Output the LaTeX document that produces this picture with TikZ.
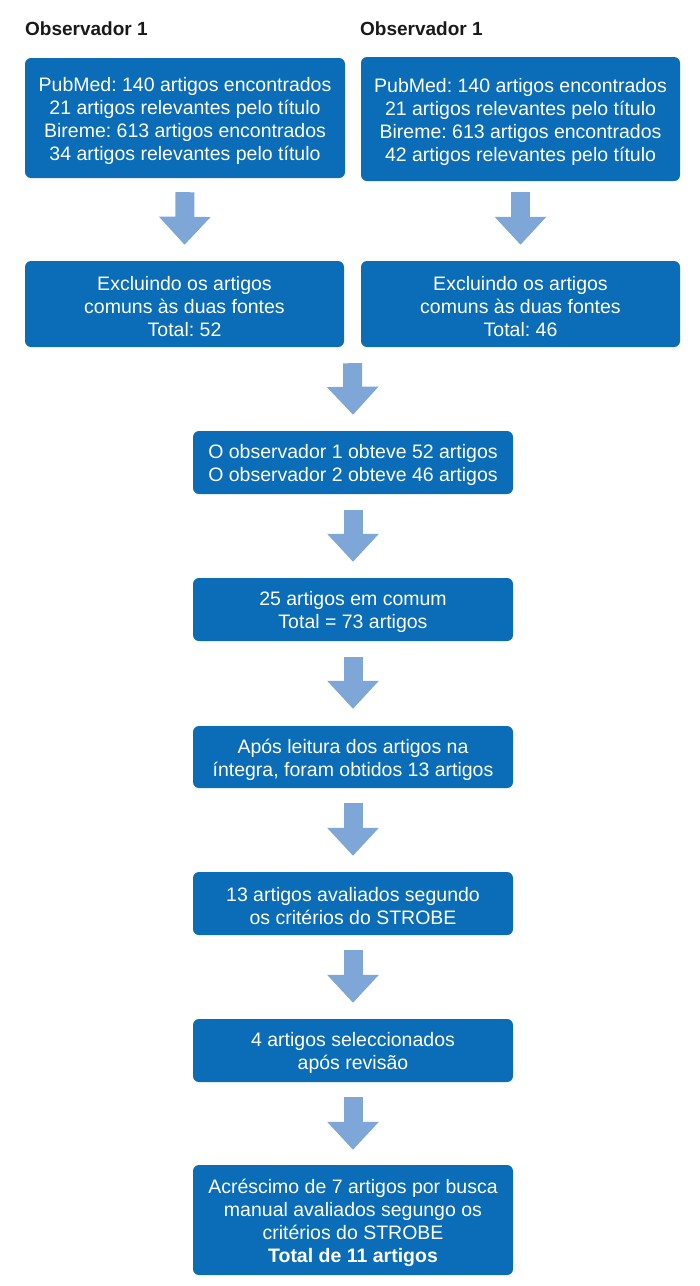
\documentclass[tikz,border=0pt]{standalone}
\usepackage{fontspec}
\setmainfont{Liberation Sans}
\usetikzlibrary{arrows.meta,calc}
\definecolor{boxblue}{HTML}{0B6DB7}
\definecolor{arrowblue}{HTML}{7EA7D8}
\frenchspacing
\newcommand\topstrut{\rule{0pt}{20pt}}
\tikzset{
  stepbox/.style={fill=boxblue, rounded corners=6pt, text=white, align=center,
    font=\fontsize{19.5}{23}\selectfont, inner sep=0pt},
  title/.style={anchor=west, inner sep=0pt, font=\fontsize{19}{23}\selectfont\bfseries, text=black!90},
  bigarrow/.style={draw=arrowblue, line width=19pt,
    -{Triangle[width=50pt,length=28pt,fill=arrowblue]}}
}
\begin{document}
\begin{tikzpicture}[x=1pt,y=-1pt]
\useasboundingbox (0,0) rectangle (700,1286);
\node[title] (t1) at (25,28.5) {Observador 1};
\node[title] (t2) at (360,28.5) {Observador 1};

\node[stepbox, minimum width=320pt, minimum height=120pt] (b1L) at (185,118)
  {\topstrut PubMed: 140 artigos encontrados\\21 artigos relevantes pelo título\\Bireme: 613 artigos encontrados\\34 artigos relevantes pelo título};
\node[stepbox, minimum width=319pt, minimum height=124pt] (b1R) at (520.5,119)
  {\topstrut PubMed: 140 artigos encontrados\\21 artigos relevantes pelo título\\Bireme: 613 artigos encontrados\\42 artigos relevantes pelo título};

\node[stepbox, minimum width=319pt, minimum height=86pt] (b2L) at (184.5,304)
  {\topstrut Excluindo os artigos\\comuns às duas fontes\\Total: 52};
\node[stepbox, minimum width=319pt, minimum height=86pt] (b2R) at (520.5,304)
  {\topstrut Excluindo os artigos\\comuns às duas fontes\\Total: 46};

\node[stepbox, minimum width=320pt, minimum height=63pt] (b3) at (353,462.5)
  {\topstrut O observador 1 obteve 52 artigos\\O observador 2 obteve 46 artigos};
\node[stepbox, minimum width=320pt, minimum height=63pt] (b4) at (353,609.5)
  {\topstrut 25 artigos em comum\\Total = 73 artigos};
\node[stepbox, minimum width=320pt, minimum height=62pt] (b5) at (353,757)
  {\topstrut Após leitura dos artigos na\\íntegra, foram obtidos 13 artigos};
\node[stepbox, minimum width=320pt, minimum height=63pt] (b6) at (353,903.5)
  {\topstrut 13 artigos avaliados segundo\\os critérios do STROBE};
\node[stepbox, minimum width=320pt, minimum height=63pt] (b7) at (353,1050.5)
  {\topstrut 4 artigos seleccionados\\após revisão};
\node[stepbox, minimum width=320pt, minimum height=110pt] (b8) at (353,1220)
  {\topstrut Acréscimo de 7 artigos por busca\\manual avaliados segungo os\\critérios do STROBE\\\textbf{Total de 11 artigos}};

\coordinate (mid) at ($(b2L.south east)!0.5!(b2R.south west)$);

\draw[bigarrow] ([yshift=-14pt]b1L.south) -- ([yshift=16pt]b2L.north);
\draw[bigarrow] ([yshift=-11pt]b1R.south) -- ([yshift=16pt]b2R.north);
\draw[bigarrow] ([yshift=-16pt]mid) -- ([yshift=16pt]b3.north);
\draw[bigarrow] ([yshift=-16pt]b3.south) -- ([yshift=16pt]b4.north);
\draw[bigarrow] ([yshift=-16pt]b4.south) -- ([yshift=17pt]b5.north);
\draw[bigarrow] ([yshift=-15pt]b5.south) -- ([yshift=16pt]b6.north);
\draw[bigarrow] ([yshift=-15pt]b6.south) -- ([yshift=16pt]b7.north);
\draw[bigarrow] ([yshift=-15pt]b7.south) -- ([yshift=15pt]b8.north);
\end{tikzpicture}
\end{document}
